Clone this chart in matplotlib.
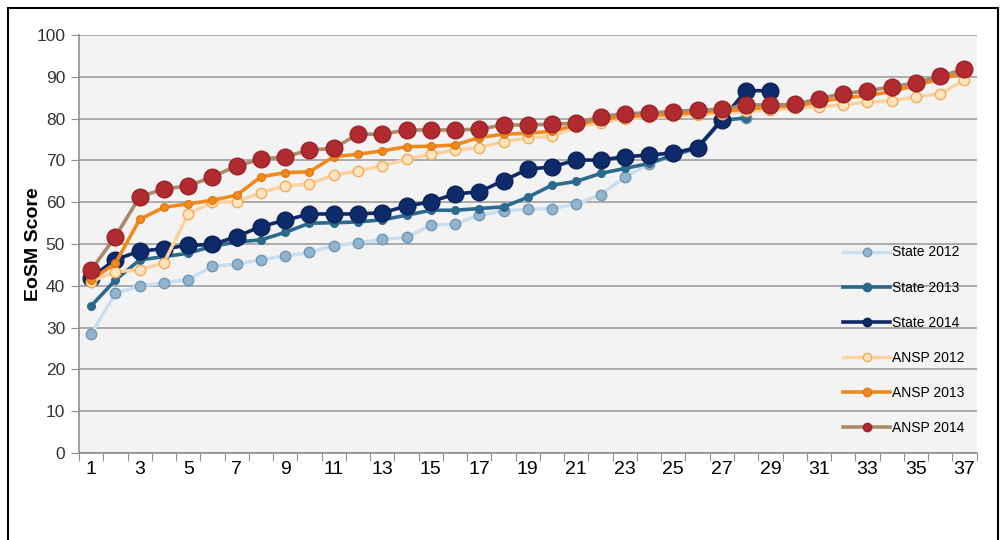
import matplotlib
matplotlib.use("Agg")
import matplotlib.pyplot as plt

plt.rcParams['font.family'] = ['Liberation Sans', 'DejaVu Sans']

state_2012 = [28.5, 38.2, 40.0, 40.7, 41.5, 44.7, 45.2, 46.3, 47.1, 48.0,
              49.6, 50.3, 51.1, 51.6, 54.5, 54.8, 56.9, 58.0, 58.3, 58.5,
              59.6, 61.8, 66.0, 69.2, 71.0, 73.0, 79.5, 80.2]
state_2013 = [35.2, 41.4, 46.2, 47.0, 47.8, 49.5, 50.5, 51.0, 52.8, 55.0,
              55.1, 55.3, 55.8, 56.9, 58.1, 58.1, 58.5, 58.9, 61.2, 64.1,
              65.0, 66.9, 68.1, 69.3, 71.3, 73.0, 79.6, 80.2]
state_2014 = [42.0, 46.3, 48.3, 48.9, 49.7, 49.9, 51.8, 54.2, 55.7, 57.2,
              57.2, 57.2, 57.5, 59.1, 60.1, 62.0, 62.5, 65.2, 67.9, 68.5,
              70.1, 70.1, 70.9, 71.3, 71.8, 73.1, 79.8, 86.7, 86.7]
ansp_2012 = [41.0, 43.4, 43.8, 45.5, 57.2, 60.0, 60.1, 62.3, 63.9, 64.4,
             66.5, 67.5, 68.7, 70.3, 71.5, 72.5, 73.1, 74.5, 75.4, 75.8,
             78.0, 79.0, 80.0, 80.3, 80.6, 81.0, 81.2, 81.8, 82.0, 82.5,
             82.9, 83.3, 84.0, 84.3, 85.2, 86.0, 89.2]
ansp_2013 = [41.4, 45.4, 55.9, 58.8, 59.6, 60.5, 61.7, 66.1, 67.1, 67.3,
             70.9, 71.5, 72.3, 73.3, 73.4, 73.7, 75.5, 76.3, 76.5, 77.0,
             78.5, 79.8, 80.5, 80.8, 81.0, 81.5, 81.8, 82.3, 82.8, 83.0,
             84.0, 85.0, 85.5, 86.5, 88.0, 89.5, 91.0]
ansp_2014 = [43.8, 51.8, 61.3, 63.2, 63.9, 66.1, 68.7, 70.3, 70.9, 72.5,
             72.9, 76.3, 76.3, 77.3, 77.3, 77.3, 77.5, 78.5, 78.5, 78.7,
             78.9, 80.5, 81.2, 81.4, 81.7, 82.1, 82.2, 83.3, 83.3, 83.4,
             84.8, 86.0, 86.7, 87.6, 88.6, 90.2, 91.8]

x_labels = [str(i) for i in range(1, 38)]

# label, values, line colour, line width, marker size, face, edge
series = [
    ("State 2012", state_2012, "#c9def0", 2.5, 7.5, "#93b4cc", "#6f97b6"),
    ("State 2013", state_2013, "#2b6a8c", 2.6, 5.5, "#2b6a8c", "#2b6a8c"),
    ("State 2014", state_2014, "#0f2a66", 2.6, 12, "#0d2a6b", "#0a2258"),
    ("ANSP 2012", ansp_2012, "#fcd3a0", 2.5, 7.5, "#fde4c0", "#f4ac55"),
    ("ANSP 2013", ansp_2013, "#f08a1c", 2.6, 5.5, "#f08a1c", "#e07a10"),
    ("ANSP 2014", ansp_2014, "#a98b6a", 2.6, 12, "#b02a30", "#9a2228"),
]

fig = plt.figure(figsize=(10.04, 5.4), dpi=100)
ax = fig.add_axes([0.0787, 0.161, 0.894, 0.774])
ax.set_facecolor("#f3f3f3")

for label, vals, lc, lw, ms, fc, ec in series:
    xs = list(range(1, len(vals) + 1))
    ax.plot(xs, vals, color=lc, lw=lw, marker="o", ms=ms,
            markerfacecolor=fc, markeredgecolor=ec, markeredgewidth=1.0,
            label=label)

ax.set_xlim(0.5, 37.5)
ax.set_ylim(0, 100)
ax.set_yticks(range(0, 101, 10))
ax.yaxis.grid(True, color="#a5a5a5", lw=1.3)
ax.set_axisbelow(True)

# category axis: tick marks between categories, labels on odd categories
ax.set_xticks([i + 0.5 for i in range(0, 38)])
ax.set_xticklabels([])
ax.set_xticks(range(1, 38, 2), minor=True)
ax.set_xticklabels(x_labels[::2], minor=True)
ax.tick_params(axis="x", which="major", length=6, color="#909090", direction="out")
ax.tick_params(axis="x", which="minor", length=0, labelsize=14, pad=6)
ax.tick_params(axis="y", length=6, color="#909090", labelsize=12.5,
               labelcolor="#333333", pad=4)

for s in ["top", "right"]:
    ax.spines[s].set_visible(False)
for s in ["left", "bottom"]:
    ax.spines[s].set_color("#909090")
    ax.spines[s].set_linewidth(1.2)

ax.set_ylabel("EoSM Score", fontsize=14, fontweight="bold")
ax.yaxis.set_label_coords(-0.041, 0.5)

leg = ax.legend(loc="upper left", bbox_to_anchor=(0.845, 0.51), frameon=False,
                fontsize=10, labelspacing=1.52, handlelength=3.4,
                handletextpad=0.15, borderaxespad=0)
for h in leg.legend_handles:
    h.set_markersize(6)

border = plt.Rectangle((0.008, -0.01), 0.986, 0.995, transform=fig.transFigure,
                       fill=False, edgecolor="black", lw=1.5)
fig.add_artist(border)

fig.savefig("out.png", dpi=100)
